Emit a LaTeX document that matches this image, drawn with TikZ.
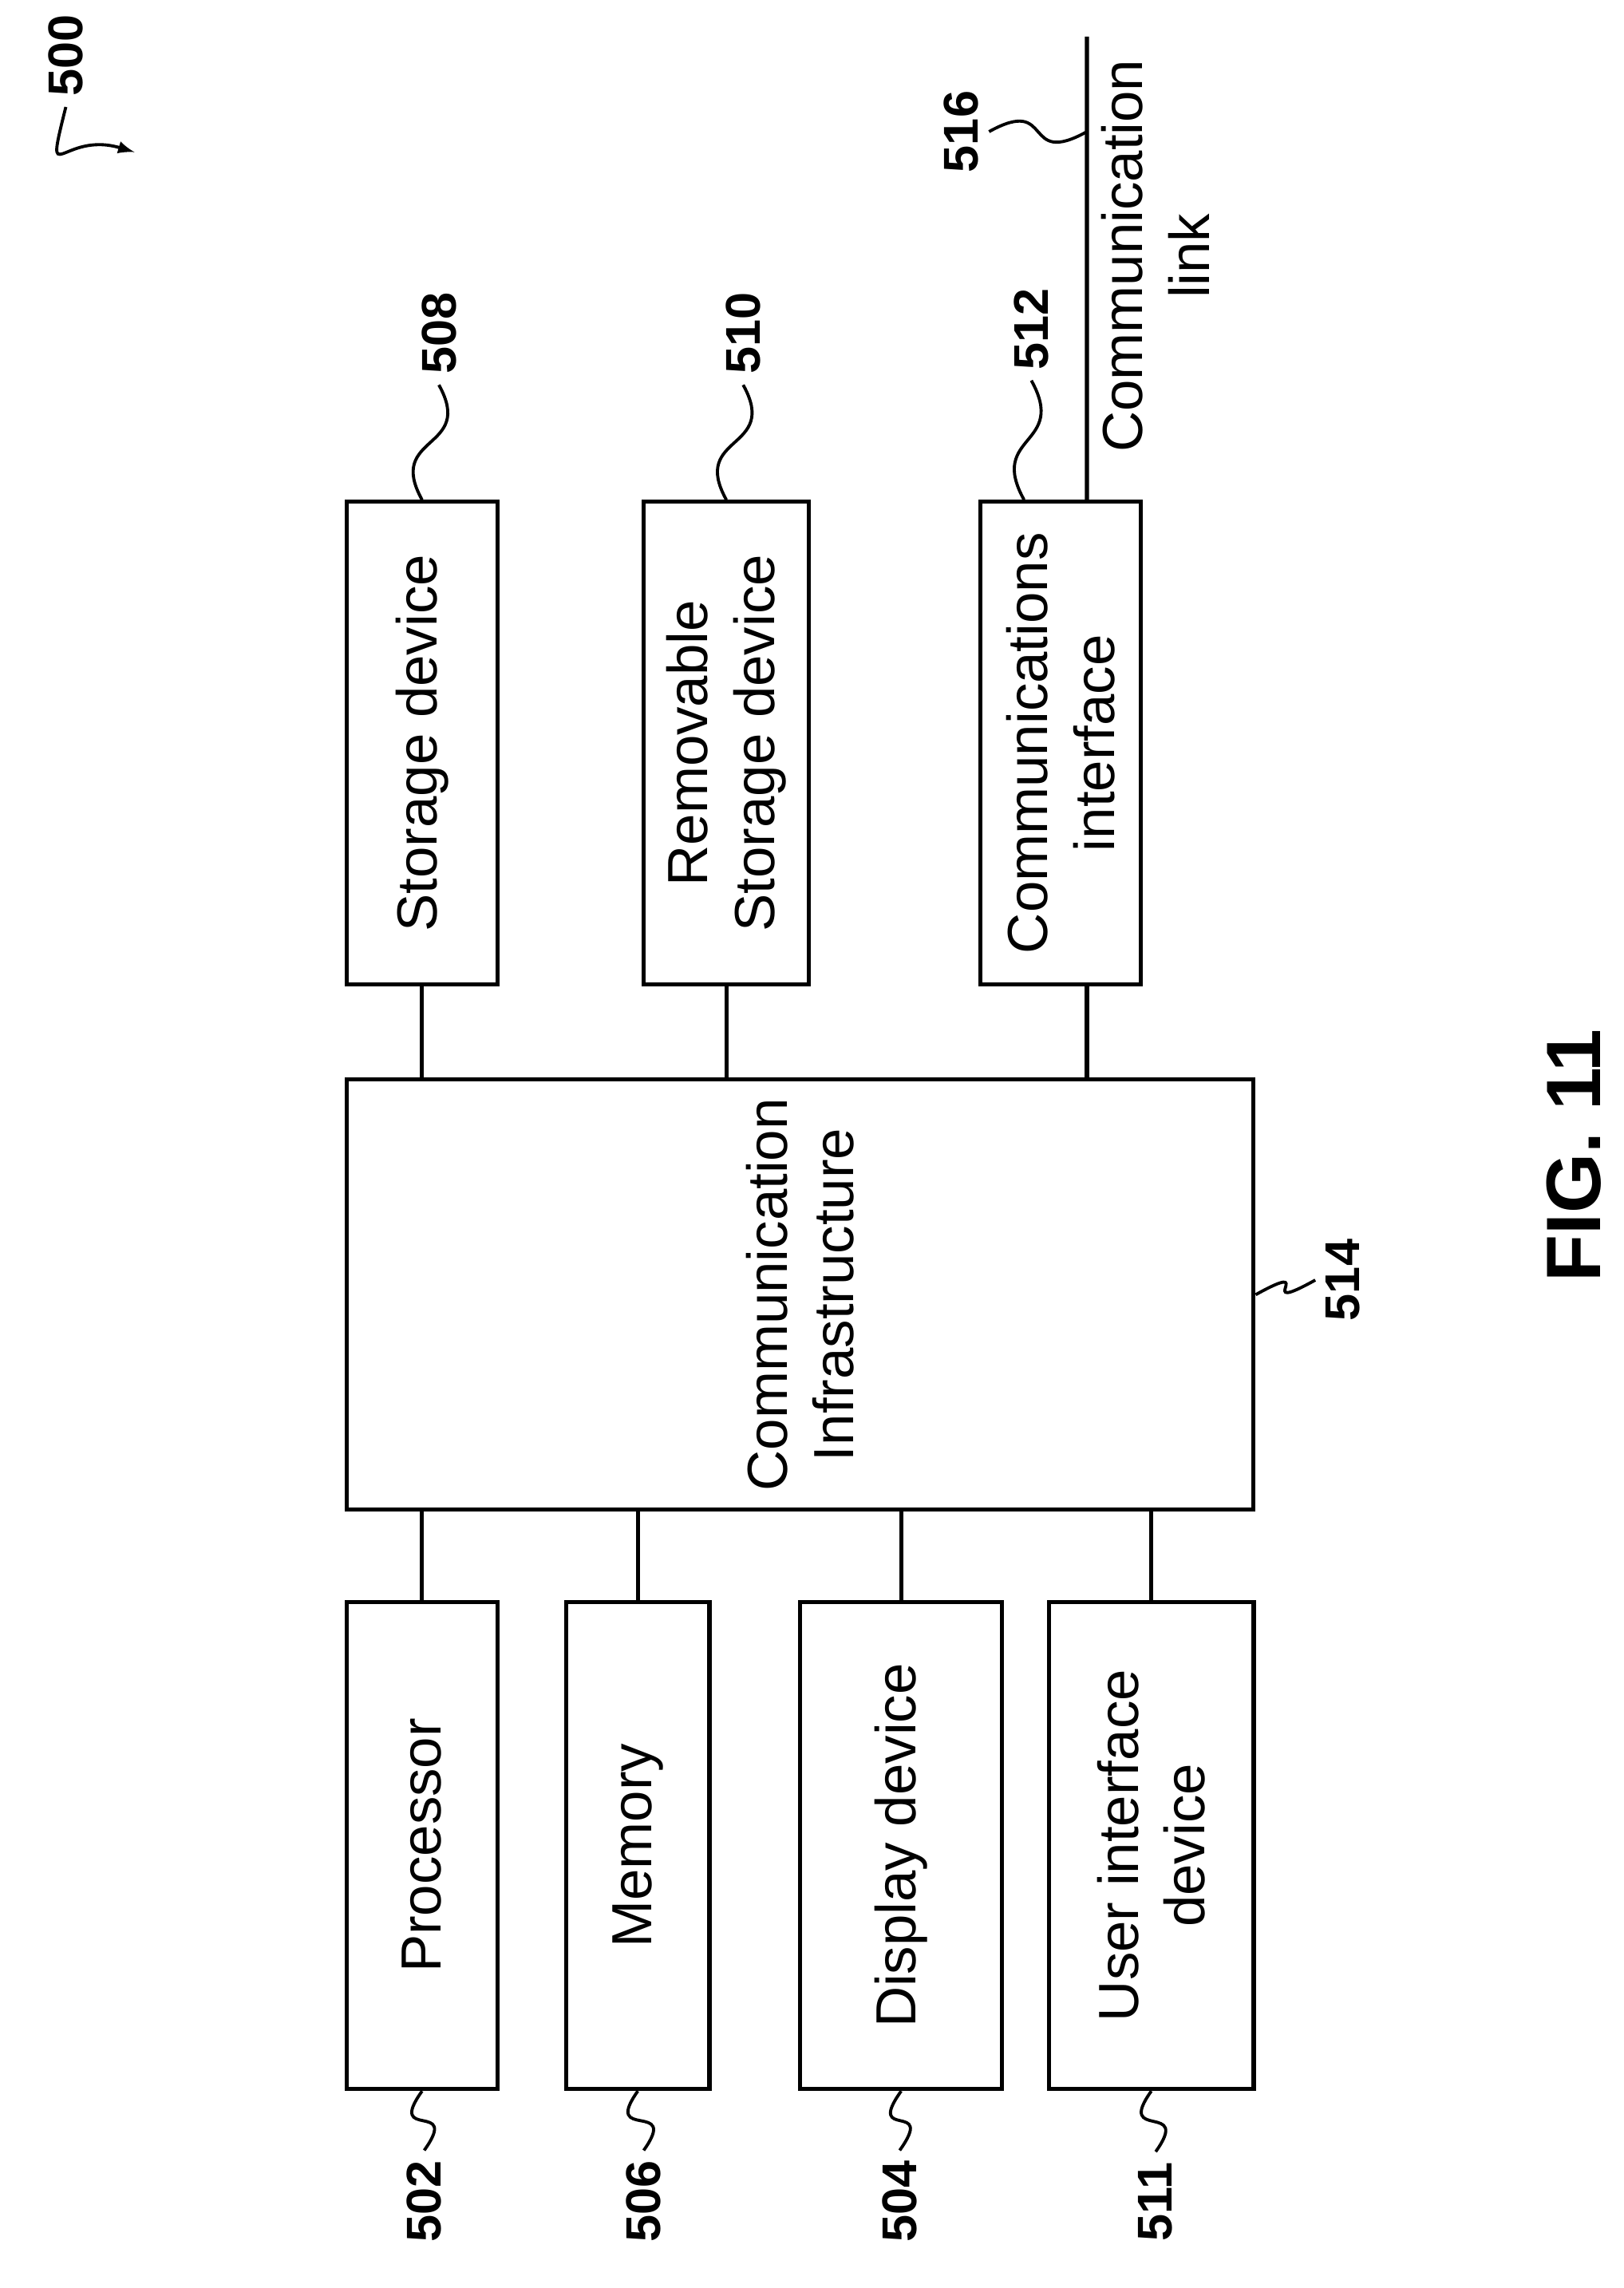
\documentclass[tikz,border=0pt]{standalone}
\usepackage{fontspec}
\setmainfont{Liberation Sans}
\usetikzlibrary{positioning}
\begin{document}
\begin{tikzpicture}[
    x=0.02cm, y=-0.02cm,
    line width=1.6pt,
    every node/.style={font=\fontsize{22}{26}\selectfont},
    unit/.style={draw, rectangle, rotate=90, minimum width=6.6cm, align=center},
    ref/.style={rotate=90, font=\fontsize{19}{22}\selectfont\bfseries},
    lead/.style={line width=1.2pt}
]
    \useasboundingbox (0,0) rectangle (1110,1564);
    % blocks (drawn turned by 90 degrees)
    \node[unit, minimum height=2.06cm] (store) at (288.5,508) {Storage device};
    \node[unit, minimum height=2.26cm] (remov) at (496.5,508) {Removable\\Storage device};
    \node[unit, minimum height=2.2cm] (comif) at (725,508) {Communications\\interface};
    \node[unit, minimum width=5.88cm, minimum height=12.4cm] (infra) at (547,885) {Communication\\Infrastructure};
    \node[unit, minimum width=6.66cm, minimum height=2.06cm] (proc) at (288.5,1261.5) {Processor};
    \node[unit, minimum width=6.66cm, minimum height=1.96cm] (mem) at (436,1261.5) {Memory};
    \node[unit, minimum width=6.66cm, minimum height=2.76cm] (disp) at (616,1261.5) {Display device};
    \node[unit, minimum width=6.66cm, minimum height=2.8cm] (user) at (787,1261.5) {User interface\\device};
    \node[rotate=90, align=center] (linktxt) at (790,175) {Communication\\link};
    \coordinate (linkend) at (743,25);
    \coordinate (linkmid) at (743,90);

    % buses
    \draw (store.west) -- (store.west |- infra.east);
    \draw (remov.west) -- (remov.west |- infra.east);
    \draw ([xshift=0.36cm]comif.west) -- ([xshift=0.36cm]comif.west |- infra.east);
    \draw ([xshift=0.36cm]comif.east) -- (linkend);
    \draw (proc.east) -- (proc.east |- infra.west);
    \draw (mem.east) -- (mem.east |- infra.west);
    \draw (disp.east) -- (disp.east |- infra.west);
    \draw (user.east) -- (user.east |- infra.west);

    % reference numerals
    \node[ref] (l500) at (45,38) {500};
    \node[ref] (l508) at (300,228) {508};
    \node[ref] (l510) at (508,228) {510};
    \node[ref] (l512) at (705,225) {512};
    \node[ref] (l516) at (657,90) {516};
    \node[ref] (l514) at (918,875) {514};
    \node[ref] (l502) at (290,1505) {502};
    \node[ref] (l506) at (440,1505) {506};
    \node[ref] (l504) at (615,1505) {504};
    \node[ref] (l511) at (790,1505) {511};
    \coordinate (tip500) at (92,104);
    \coordinate (tip512) at ([xshift=-0.5cm]comif.east);

    \draw[lead] (store.east) .. controls +(-0.5cm,0.9cm) and +(0.5cm,-0.9cm) .. (l508.west);
    \draw[lead] (remov.east) .. controls +(-0.5cm,0.9cm) and +(0.5cm,-0.9cm) .. (l510.west);
    \draw[lead] (tip512) .. controls +(-0.5cm,0.9cm) and +(0.5cm,-0.9cm) .. (l512.west);
    \draw[lead] (l516.south) .. controls +(0.9cm,0.5cm) and +(-0.9cm,-0.5cm) .. (linkmid);
    \draw[lead] (infra.south) .. controls +(0.9cm,0.5cm) and +(-0.9cm,-0.5cm) .. (l514.north);
    \draw[lead] (proc.west) .. controls +(-0.5cm,-0.7cm) and +(0.5cm,0.7cm) .. (l502.east);
    \draw[lead] (mem.west) .. controls +(-0.5cm,-0.7cm) and +(0.5cm,0.7cm) .. (l506.east);
    \draw[lead] (disp.west) .. controls +(-0.5cm,-0.7cm) and +(0.5cm,0.7cm) .. (l504.east);
    \draw[lead] (user.west) .. controls +(-0.5cm,-0.7cm) and +(0.5cm,0.7cm) .. (l511.east);
    \draw[lead, -latex] (l500.west) .. controls +(-0.3cm,-1.2cm) and +(-1.0cm,0.3cm) .. (tip500);

    \node[rotate=90, font=\fontsize{30}{34}\selectfont\bfseries] (fig) at (1076,790) {FIG. 11};
\end{tikzpicture}
\end{document}
